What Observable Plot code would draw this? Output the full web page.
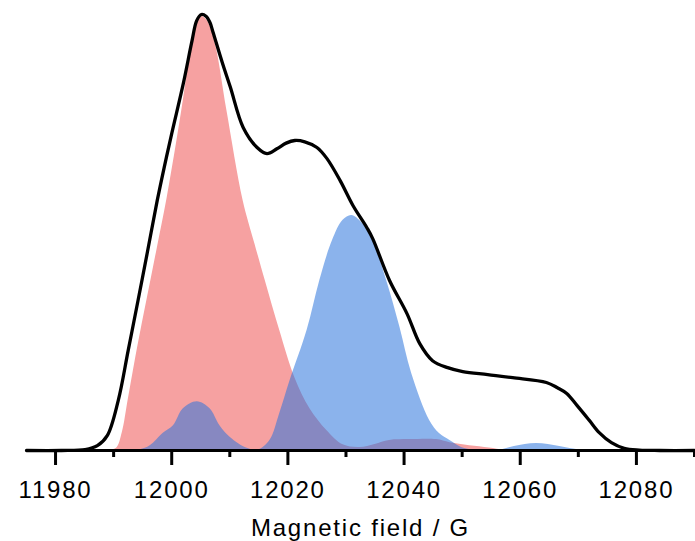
<!DOCTYPE html>
<html>
<head>
<meta charset="utf-8">
<script src="https://cdn.jsdelivr.net/npm/d3@7"></script>
<script src="https://cdn.jsdelivr.net/npm/@observablehq/plot@0.6"></script>
<style>
  html, body { margin: 0; padding: 0; background: #fff; }
  #chart svg text { letter-spacing: 1.8px; }
</style>
</head>
<body>
<div id="chart"></div>
<script>
// Magnetic field (G) and intensity (normalised) of the measured spectrum
const spectrumField = [11975, 11981, 11985.1, 11987.2, 11988.9, 11990.8, 11992.5, 11994.2, 11995.8, 11997.5, 11998.7, 12000.0, 12002.0, 12003.5, 12004.3, 12005.1, 12005.9, 12006.6, 12007.1, 12008.7, 12010.1, 12012.3, 12014.7, 12016.4, 12018.1, 12019.7, 12021.2, 12022.9, 12025.0, 12026.7, 12029.0, 12031.2, 12033.6, 12034.6, 12037.5, 12040.5, 12042.7, 12044.9, 12047.5, 12050.1, 12054.4, 12058.7, 12064.5, 12066.4, 12068.0, 12069.8, 12071.9, 12073.6, 12075.7, 12077.9, 12080.5, 12084, 12090];
const spectrumIntensity = [0, 0, 0.002, 0.011, 0.034, 0.115, 0.229, 0.344, 0.454, 0.573, 0.649, 0.727, 0.842, 0.940, 0.986, 1.0, 0.996, 0.981, 0.960, 0.890, 0.833, 0.741, 0.695, 0.681, 0.692, 0.705, 0.711, 0.708, 0.695, 0.670, 0.619, 0.562, 0.511, 0.486, 0.390, 0.314, 0.245, 0.206, 0.190, 0.181, 0.174, 0.167, 0.156, 0.144, 0.131, 0.103, 0.069, 0.041, 0.018, 0.005, 0.001, 0, 0];

// Component 1 (red)
const redField = [11975, 11987, 11989.1, 11990.5, 11991.5, 11992.5, 11994.1, 11995.8, 11997.5, 11999.2, 12001.1, 12002.2, 12003.0, 12004.0, 12005.1, 12006.1, 12007.5, 12009.5, 12012.3, 12014.3, 12016.1, 12018.6, 12021.2, 12023.8, 12026.7, 12029.5, 12032.4, 12035.0, 12037.5, 12041.0, 12045.6, 12047.9, 12051.3, 12054.7, 12057.3, 12060, 12090];
const redIntensity = [0, 0, 0.001, 0.005, 0.041, 0.115, 0.234, 0.349, 0.463, 0.578, 0.727, 0.821, 0.901, 0.968, 0.995, 0.986, 0.933, 0.780, 0.573, 0.475, 0.390, 0.275, 0.167, 0.096, 0.046, 0.013, 0.007, 0.014, 0.023, 0.025, 0.025, 0.018, 0.011, 0.006, 0.001, 0, 0];

// Component 2 (blue)
const blueField = [11975, 11991, 11992.9, 11994.6, 11996.3, 11998.5, 12000.3, 12002.0, 12004.4, 12006.6, 12008.3, 12010.1, 12013.0, 12014.9, 12016.9, 12018.6, 12020.4, 12023.3, 12025.5, 12027.7, 12029.5, 12031.0, 12032.7, 12034.6, 12037.0, 12039.3, 12041.3, 12044.4, 12046.1, 12047.9, 12049.9, 12052.1, 12054.5, 12056.4, 12059.0, 12062.8, 12066.8, 12070.2, 12072, 12090];
const blueIntensity = [0, 0, 0, 0.002, 0.011, 0.039, 0.057, 0.096, 0.112, 0.096, 0.057, 0.030, 0.005, 0.001, 0.023, 0.085, 0.161, 0.275, 0.390, 0.482, 0.528, 0.539, 0.523, 0.482, 0.390, 0.282, 0.177, 0.069, 0.039, 0.023, 0.007, 0.001, 0, 0.001, 0.009, 0.016, 0.009, 0.001, 0, 0];

const majorTicks = [11980, 12000, 12020, 12040, 12060, 12080];
const minorTicks = [11990, 12010, 12030, 12050, 12070, 12090];
const xLabel = "Magnetic field / G";

const spectrum = spectrumField.map((x, i) => ({x, y: spectrumIntensity[i]}));
const red = redField.map((x, i) => ({x, y: redIntensity[i]}));
const blue = blueField.map((x, i) => ({x, y: blueIntensity[i]}));

const chart = Plot.plot({
  width: 695,
  height: 541,
  marginLeft: 26,
  marginRight: 1,
  marginTop: 14,
  marginBottom: 91,
  style: {fontFamily: "'Liberation Sans', Arial, sans-serif", fontSize: "24px", color: "#000", background: "#fff"},
  x: {domain: [11975, 12090]},
  y: {domain: [0, 1], axis: null},
  marks: [
    Plot.areaY(red, {x: "x", y: "y", fill: "#f6a1a1", curve: "catmull-rom"}),
    Plot.areaY(blue, {x: "x", y: "y", fill: "rgb(41,115,220)", fillOpacity: 0.54, curve: "catmull-rom"}),
    Plot.lineY(spectrum, {x: "x", y: "y", stroke: "#000", strokeWidth: 3.3, curve: "catmull-rom"}),
    Plot.ruleY([0], {stroke: "#000", strokeWidth: 3}),
    Plot.axisX({ticks: minorTicks, tickSize: 7, strokeWidth: 3, tickFormat: () => "", label: null}),
    Plot.axisX({ticks: majorTicks, tickSize: 15, tickPadding: 15, strokeWidth: 3, fontSize: 24, tickFormat: d => `${d}`, label: null}),
    Plot.text([xLabel], {text: d => d, frameAnchor: "bottom", lineAnchor: "top", dy: 68, fontSize: 24, fill: "#000"})
  ]
});
document.getElementById("chart").appendChild(chart);
</script>
</body>
</html>
